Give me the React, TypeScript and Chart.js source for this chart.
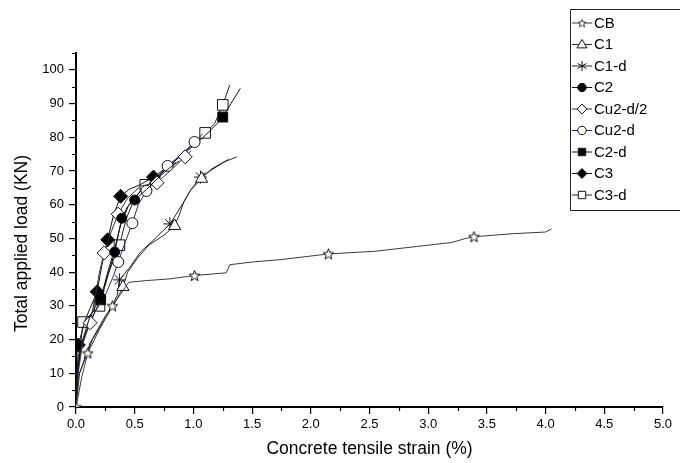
import React, { useEffect, useRef } from "react";
import { Chart, registerables } from "chart.js";

Chart.register(...registerables);

// Load (kN) versus concrete tensile strain (%) for each beam; pairs are [strain, load]
const cbData = [[0, 0], [0.05, 9], [0.10, 16], [0.2, 23], [0.31, 30], [0.37, 33], [0.42, 35.5], [0.45, 37], [0.6, 37.5], [0.8, 38], [1.01, 39], [1.28, 39.8], [1.31, 42.2], [1.5, 43], [1.74, 43.7], [2.15, 45.4], [2.55, 46.2], [2.9, 47.6], [3.2, 48.8], [3.32, 50], [3.39, 50.5], [3.72, 51.4], [4.0, 51.9], [4.05, 52.8]];
const c1Data = [[0, 0], [0.02, 9], [0.12, 19], [0.25, 27], [0.35, 32], [0.40, 35.6], [0.44, 40], [0.52, 44], [0.62, 48], [0.75, 51], [0.84, 53.7], [0.88, 57], [0.92, 61], [0.98, 64.5], [1.07, 67.7], [1.15, 70.5], [1.25, 72.5], [1.37, 74.2]];
const c1dData = [[0, 0], [0.03, 10], [0.14, 20], [0.28, 28], [0.35, 33], [0.37, 37.7], [0.46, 41.5], [0.55, 46], [0.66, 49.5], [0.80, 54.3], [0.85, 57], [0.93, 61.5], [0.97, 64], [1.06, 68.2], [1.14, 70], [1.3, 73.5]];
const c2Data = [[0, 0], [0.01, 10], [0.04, 18], [0.12, 27], [0.21, 32.5], [0.28, 40], [0.33, 46], [0.36, 51], [0.39, 56], [0.44, 59.5], [0.50, 61.4], [0.6, 64.5], [0.7, 68], [0.8, 71], [0.88, 73]];
const cu2d2Data = [[0, 0], [0.02, 15], [0.12, 25], [0.16, 32], [0.20, 40], [0.24, 45.7], [0.30, 52], [0.36, 57.2], [0.44, 62], [0.55, 65.5], [0.69, 66.5], [0.80, 70], [0.93, 74.2], [0.98, 76]];
const cu2dData = [[0, 0], [0.01, 8], [0.06, 20], [0.16, 28], [0.26, 34], [0.32, 39], [0.36, 43], [0.42, 49], [0.48, 54.5], [0.53, 60], [0.60, 64.1], [0.70, 68], [0.78, 71.5], [0.9, 75], [1.01, 78.6], [1.08, 81]];
const c2dData = [[0, 0], [0.01, 10], [0.05, 19], [0.13, 26], [0.21, 31.8], [0.27, 40], [0.33, 47], [0.38, 54], [0.45, 60], [0.55, 64], [0.68, 68], [0.82, 72.5], [0.95, 76], [1.1, 80.5], [1.2, 84], [1.25, 86], [1.32, 90], [1.40, 94.5]];
const c3Data = [[0, 0], [0.01, 10], [0.02, 18.4], [0.08, 26], [0.18, 34.2], [0.22, 42], [0.27, 49.6], [0.32, 57], [0.38, 62.5], [0.45, 64.5], [0.55, 66], [0.66, 68.2], [0.75, 70.5], [0.85, 72.5]];
const c3dData = [[0, 0], [0.02, 12], [0.06, 25.2], [0.14, 28], [0.20, 30], [0.28, 40], [0.37, 48], [0.43, 56], [0.50, 62], [0.59, 65.9], [0.72, 69], [0.86, 73.5], [1.0, 78], [1.10, 81.3], [1.18, 84], [1.25, 89.6], [1.31, 95.5]];

// Indices of the points that carry a symbol
const cbMarks = [0, 2, 4, 10, 15, 20];
const c1Marks = [5, 10, 14];
const c1dMarks = [5, 9, 13];
const c2Marks = [4, 6, 8, 10];
const cu2d2Marks = [2, 5, 7, 10, 12];
const cu2dMarks = [6, 8, 10, 12, 14];
const c2dMarks = [4, 15];
const c3Marks = [2, 4, 6, 8, 11];
const c3dMarks = [2, 4, 6, 9, 13, 15];

const seriesNames = ["CB", "C1", "C1-d", "C2", "Cu2-d/2", "Cu2-d", "C2-d", "C3", "C3-d"];

const xTicks = [0, 0.5, 1, 1.5, 2, 2.5, 3, 3.5, 4, 4.5, 5];
const yTicks = [0, 10, 20, 30, 40, 50, 60, 70, 80, 90, 100];

const xTitle = "Concrete tensile strain (%)";
const yTitle = "Total applied load (KN)";

const FONT = "'Liberation Sans', Arial, sans-serif";

function starCanvas(size: number): HTMLCanvasElement {
  const c = document.createElement("canvas");
  c.width = size;
  c.height = size;
  const g = c.getContext("2d")!;
  const cx = size / 2;
  const cy = size / 2 + 0.5;
  const ro = size / 2 - 0.8;
  const ri = ro * 0.42;
  g.beginPath();
  for (let i = 0; i < 10; i++) {
    const r = i % 2 === 0 ? ro : ri;
    const a = -Math.PI / 2 + (i * Math.PI) / 5;
    const px = cx + r * Math.cos(a);
    const py = cy + r * Math.sin(a);
    if (i === 0) g.moveTo(px, py);
    else g.lineTo(px, py);
  }
  g.closePath();
  g.fillStyle = "#fff";
  g.fill();
  g.lineWidth = 1;
  g.strokeStyle = "#111";
  g.stroke();
  return c;
}

type MarkerSpec = { style: any; fill: string; radius: number; legendRadius: number };

function drawLegendMarker(ctx: CanvasRenderingContext2D, spec: MarkerSpec, x: number, y: number) {
  const r = spec.legendRadius;
  ctx.save();
  ctx.lineWidth = 1;
  ctx.strokeStyle = "#111";
  ctx.fillStyle = spec.fill;
  if (typeof spec.style !== "string") {
    const img = spec.style as HTMLCanvasElement;
    const s = 10;
    ctx.drawImage(img, x - s / 2, y - s / 2, s, s);
    ctx.restore();
    return;
  }
  ctx.beginPath();
  switch (spec.style) {
    case "circle":
      ctx.arc(x, y, r, 0, Math.PI * 2);
      break;
    case "rect":
      ctx.rect(x - r, y - r, 2 * r, 2 * r);
      break;
    case "rectRot":
      ctx.moveTo(x, y - r * 1.3);
      ctx.lineTo(x + r * 1.3, y);
      ctx.lineTo(x, y + r * 1.3);
      ctx.lineTo(x - r * 1.3, y);
      ctx.closePath();
      break;
    case "triangle":
      ctx.moveTo(x, y - r * 1.2);
      ctx.lineTo(x + r * 1.2, y + r * 0.8);
      ctx.lineTo(x - r * 1.2, y + r * 0.8);
      ctx.closePath();
      break;
    case "star": {
      const a = r * 1.2;
      ctx.moveTo(x, y - a); ctx.lineTo(x, y + a);
      ctx.moveTo(x - a * 0.87, y - a * 0.5); ctx.lineTo(x + a * 0.87, y + a * 0.5);
      ctx.moveTo(x - a * 0.87, y + a * 0.5); ctx.lineTo(x + a * 0.87, y - a * 0.5);
      ctx.stroke();
      ctx.restore();
      return;
    }
  }
  ctx.fill();
  ctx.stroke();
  ctx.restore();
}

export default function App() {
  const canvasRef = useRef<HTMLCanvasElement | null>(null);

  useEffect(() => {
    const canvas = canvasRef.current;
    if (!canvas) return;

    const star = starCanvas(13);
    const seriesData = [cbData, c1Data, c1dData, c2Data, cu2d2Data, cu2dData, c2dData, c3Data, c3dData];
    const seriesMarks = [cbMarks, c1Marks, c1dMarks, c2Marks, cu2d2Marks, cu2dMarks, c2dMarks, c3Marks, c3dMarks];
    const lineColors = ["#3a3a3a", "#2a2a2a", "#222", "#111", "#333", "#2b2a78", "#111", "#111", "#222"];
    const markers: MarkerSpec[] = [
      { style: star, fill: "#fff", radius: 6, legendRadius: 4 },
      { style: "triangle", fill: "#fff", radius: 7, legendRadius: 4.2 },
      { style: "star", fill: "#fff", radius: 6.5, legendRadius: 4.2 },
      { style: "circle", fill: "#000", radius: 5, legendRadius: 4.2 },
      { style: "rectRot", fill: "#fff", radius: 7, legendRadius: 3.8 },
      { style: "circle", fill: "#fff", radius: 5.5, legendRadius: 4.2 },
      { style: "rect", fill: "#000", radius: 7, legendRadius: 3.7 },
      { style: "rectRot", fill: "#000", radius: 7, legendRadius: 3.8 },
      { style: "rect", fill: "#fff", radius: 7.5, legendRadius: 3.7 },
    ];

    const datasets = seriesNames.map((name, i) => {
      const marks = seriesMarks[i];
      const m = markers[i];
      return {
        label: name,
        data: seriesData[i].map(([x, y]) => ({ x, y })),
        borderColor: lineColors[i],
        borderWidth: 1,
        tension: 0,
        fill: false,
        pointStyle: m.style,
        pointBackgroundColor: m.fill,
        pointBorderColor: "#111",
        pointBorderWidth: 1,
        pointRadius: (c: any) => (marks.includes(c.dataIndex) ? m.radius : 0),
        pointHoverRadius: 0,
      };
    });

    // Origin-style minor ticks, the rotated load title and the boxed legend
    const decorations = {
      id: "decorations",
      afterDraw(chart: any) {
        const ctx: CanvasRenderingContext2D = chart.ctx;
        const xs = chart.scales.x;
        const ys = chart.scales.y;
        const area = chart.chartArea;
        ctx.save();
        ctx.strokeStyle = "#000";
        ctx.lineWidth = 1.2;
        ctx.beginPath();
        for (let v = 0.25; v < 5; v += 0.5) {
          const px = Math.round(xs.getPixelForValue(v)) + 0.5;
          ctx.moveTo(px, area.bottom);
          ctx.lineTo(px, area.bottom + 4);
        }
        for (let v = 5; v <= 105; v += 10) {
          const py = Math.round(ys.getPixelForValue(v)) + 0.5;
          ctx.moveTo(area.left, py);
          ctx.lineTo(area.left - 4, py);
        }
        ctx.stroke();

        // y-axis title
        ctx.save();
        ctx.translate(22, ys.getPixelForValue(48.5));
        ctx.rotate(-Math.PI / 2);
        ctx.font = `17.5px ${FONT}`;
        ctx.fillStyle = "#000";
        ctx.textAlign = "center";
        ctx.textBaseline = "middle";
        ctx.fillText(yTitle, 0, 0);
        ctx.restore();

        // legend box
        const boxL = 570.5, boxT = 9.5, boxB = 210.5;
        ctx.lineWidth = 1;
        ctx.strokeStyle = "#222";
        ctx.fillStyle = "#fff";
        ctx.beginPath();
        ctx.rect(boxL, boxT, 130, boxB - boxT);
        ctx.fill();
        ctx.stroke();
        ctx.font = `15px ${FONT}`;
        ctx.textBaseline = "middle";
        ctx.textAlign = "left";
        seriesNames.forEach((name, i) => {
          const y = 22.5 + i * 21.5;
          ctx.strokeStyle = lineColors[i];
          ctx.lineWidth = 1;
          ctx.beginPath();
          ctx.moveTo(572, y + 0.5);
          ctx.lineTo(592, y + 0.5);
          ctx.stroke();
          drawLegendMarker(ctx, markers[i], 582, y + 0.5);
          ctx.fillStyle = "#000";
          ctx.fillText(name, 594, y + 1);
        });
        ctx.restore();
      },
    };

    const chart = new Chart(canvas, {
      type: "line",
      data: { datasets },
      plugins: [decorations],
      options: {
        animation: false,
        responsive: false,
        events: [],
        layout: { padding: { top: 53, right: 17, left: 0, bottom: 0 } },
        plugins: { legend: { display: false }, tooltip: { enabled: false } },
        scales: {
          x: {
            type: "linear",
            min: 0,
            max: 5,
            afterBuildTicks: (s: any) => { s.ticks = xTicks.map((v) => ({ value: v })); },
            afterFit: (s: any) => { s.height = 56; },
            ticks: {
              callback: (v: any) => Number(v).toFixed(1),
              color: "#000",
              font: { family: FONT, size: 13 },
              padding: 3,
              maxRotation: 0,
              autoSkip: false,
            },
            grid: { drawOnChartArea: false, drawTicks: true, tickLength: 7, color: "#000", lineWidth: 1.2 },
            border: { display: true, color: "#000", width: 2 },
            title: { display: true, text: xTitle, color: "#000", font: { family: FONT, size: 17.5 }, padding: { top: 0, bottom: 3 } },
          },
          y: {
            type: "linear",
            min: 0,
            max: 105,
            afterBuildTicks: (s: any) => { s.ticks = yTicks.map((v) => ({ value: v })); },
            afterFit: (s: any) => { s.width = 76; },
            ticks: {
              color: "#000",
              font: { family: FONT, size: 13 },
              padding: 5,
              autoSkip: false,
            },
            grid: { drawOnChartArea: false, drawTicks: true, tickLength: 7, color: "#000", lineWidth: 1.2 },
            border: { display: true, color: "#000", width: 2 },
            title: { display: false },
          },
        },
      } as any,
    });

    return () => chart.destroy();
  }, []);

  return (
    <div style={{ position: "fixed", left: 0, top: 0, width: 680, height: 463, background: "#fff" }}>
      <canvas ref={canvasRef} width={680} height={463} />
    </div>
  );
}
